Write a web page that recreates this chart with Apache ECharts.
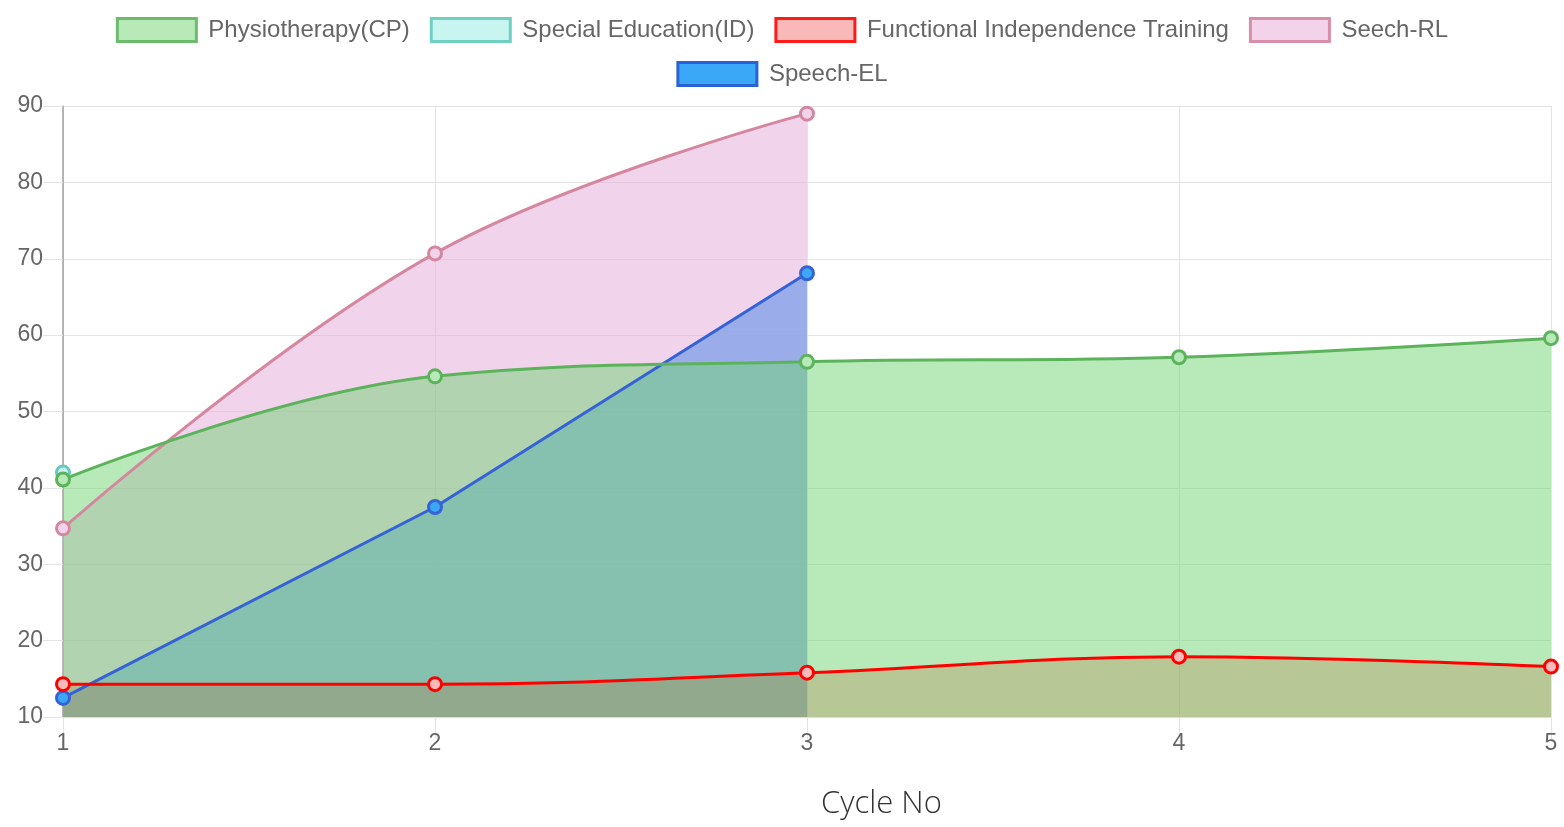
<!DOCTYPE html>
<html>
<head>
<meta charset="utf-8">
<script src="https://cdn.jsdelivr.net/npm/echarts@6/dist/echarts.min.js"></script>
<style>
html,body{margin:0;padding:0;background:#fff;}
#chart{width:1564px;height:827px;}
</style>
</head>
<body>
<div id="chart"></div>
<script>
var categories = ['1', '2', '3', '4', '5'];
var yTicks = [10, 20, 30, 40, 50, 60, 70, 80, 90];
var physiotherapy = [41.1, 54.6, 56.5, 57.1, 59.6];
var specialEducation = [42.0, null, null, null, null];
var functionalIndependence = [14.3, 14.3, 15.8, 17.9, 16.6];
var seechRL = [34.7, 70.7, 89.0, null, null];
var speechEL = [12.5, 37.5, 68.1, null, null];
var xTitle = 'Cycle No';

var defs = [
  {name: 'Physiotherapy(CP)', data: physiotherapy, line: '#5cb35c', fill: 'rgba(113,211,113,0.5)', pt: '#b8e9b8', legendFill: '#b8e9b8', legendBorder: '#6dbb6d', smooth: 0.4},
  {name: 'Special Education(ID)', data: specialEducation, line: '#66ccc0', fill: 'rgba(150,235,225,0.5)', pt: '#c9f5f0', legendFill: '#c9f5f0', legendBorder: '#6fcfc3', smooth: 0.4},
  {name: 'Functional Independence Training', data: functionalIndependence, line: '#ff0000', fill: 'rgba(255,0,0,0.27)', pt: '#fbbaba', legendFill: '#fab9b9', legendBorder: '#ff1a1a', smooth: 0.4},
  {name: 'Seech-RL', data: seechRL, line: '#d4879f', fill: 'rgba(232,176,221,0.56)', pt: '#f2d3ec', legendFill: '#f3d3ea', legendBorder: '#d88ea8', smooth: 0.4},
  {name: 'Speech-EL', data: speechEL, line: '#3563d6', fill: 'rgba(0,145,249,0.78)', pt: '#3aa8f6', legendFill: '#3aa8f6', legendBorder: '#2a62d6', smooth: false}
];

function legendItem(d) {
  return {name: d.name, itemStyle: {color: d.legendFill, borderColor: d.legendBorder, borderWidth: 3}};
}

var series = defs.slice().reverse().map(function (d) {
  return {
    name: d.name,
    type: 'line',
    data: d.data.map(function (v) { return v === null ? '-' : v; }),
    smooth: d.smooth,
    symbol: 'circle',
    symbolSize: 13,
    showSymbol: true,
    connectNulls: false,
    lineStyle: {color: d.line, width: 3},
    itemStyle: {color: d.pt, borderColor: d.line, borderWidth: 3},
    areaStyle: {color: d.fill, origin: 'start', opacity: 1},
    emphasis: {disabled: true},
    animation: false
  };
});

var legendCommon = {
  icon: 'rect',
  itemWidth: 79,
  itemHeight: 23,
  itemGap: 20,
  selectedMode: false,
  padding: 0,
  textStyle: {color: '#666', fontSize: 24, fontFamily: 'Liberation Sans, Arial, sans-serif', padding: [0, 0, 0, 7]}
};

var chart = echarts.init(document.getElementById('chart'), null, {renderer: 'canvas'});
chart.setOption({
  animation: false,
  backgroundColor: '#fff',
  title: {
    text: xTitle,
    left: 821,
    top: 789,
    padding: 0,
    textStyle: {color: '#333', fontSize: 31, fontWeight: 300, fontFamily: 'Open Sans, sans-serif'}
  },
  legend: [
    Object.assign({}, legendCommon, {left: 'center', top: 17, data: defs.slice(0, 4).map(legendItem)}),
    Object.assign({}, legendCommon, {left: 'center', top: 61, data: defs.slice(4).map(legendItem)})
  ],
  grid: {left: 63, right: 13, top: 106, bottom: 110, containLabel: false},
  xAxis: {
    type: 'category',
    data: categories,
    boundaryGap: false,
    axisLine: {show: true, lineStyle: {color: '#dcdcdc', width: 1}},
    axisTick: {show: true, length: 22, lineStyle: {color: '#e4e4e4'}},
    axisLabel: {color: '#666', fontSize: 23, margin: 15, fontFamily: 'Liberation Sans, Arial, sans-serif'},
    splitLine: {show: true, lineStyle: {color: '#e4e4e4', width: 1}}
  },
  yAxis: {
    type: 'value',
    min: yTicks[0],
    max: yTicks[yTicks.length - 1],
    interval: yTicks[1] - yTicks[0],
    axisLine: {show: true, lineStyle: {color: '#a0a0a0', width: 1.5}},
    axisTick: {show: true, length: 20, lineStyle: {color: '#e4e4e4'}},
    axisLabel: {color: '#666', fontSize: 23, margin: 20, fontFamily: 'Liberation Sans, Arial, sans-serif'},
    splitLine: {show: true, lineStyle: {color: '#e4e4e4', width: 1}}
  },
  series: series
});
</script>
</body>
</html>
